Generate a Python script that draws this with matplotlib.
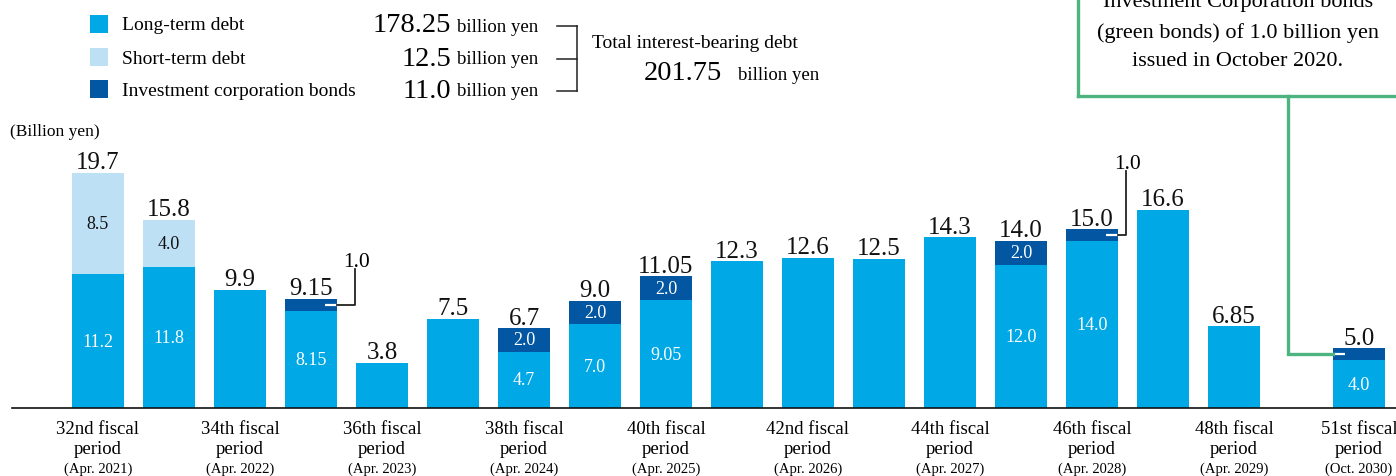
import numpy as np
import matplotlib
matplotlib.use("Agg")
import matplotlib.pyplot as plt
from matplotlib.patches import Rectangle
from matplotlib.lines import Line2D

plt.rcParams['font.family'] = ['Liberation Serif', 'DejaVu Serif']

# ---------------- data ----------------
periods = ["32nd", "33rd", "34th", "35th", "36th", "37th", "38th", "39th", "40th",
           "41st", "42nd", "43rd", "44th", "45th", "46th", "47th", "48th", "51st"]
long_term = [11.2, 11.8, 9.9, 8.15, 3.8, 7.5, 4.7, 7.0, 9.05,
             12.3, 12.6, 12.5, 14.3, 12.0, 14.0, 16.6, 6.85, 4.0]
short_term = [8.5, 4.0, 0, 0, 0, 0, 0, 0, 0,
              0, 0, 0, 0, 0, 0, 0, 0, 0]
bonds = [0, 0, 0, 1.0, 0, 0, 2.0, 2.0, 2.0,
         0, 0, 0, 0, 2.0, 1.0, 0, 0, 1.0]
tick_line1 = ["32nd fiscal", "34th fiscal", "36th fiscal", "38th fiscal", "40th fiscal",
              "42nd fiscal", "44th fiscal", "46th fiscal", "48th fiscal", "51st fiscal"]
tick_dates = ["(Apr. 2021)", "(Apr. 2022)", "(Apr. 2023)", "(Apr. 2024)", "(Apr. 2025)",
              "(Apr. 2026)", "(Apr. 2027)", "(Apr. 2028)", "(Apr. 2029)", "(Oct. 2030)"]
tick_periods = ["32nd", "34th", "36th", "38th", "40th", "42nd", "44th", "46th", "48th", "51st"]

legend_names = ["Long-term debt", "Short-term debt", "Investment corporation bonds"]
legend_totals = ["178.25", "12.5", "11.0"]
grand_total = "201.75"
unit_label = "billion yen"
green_note = ["Investment Corporation bonds", "(green bonds) of 1.0 billion yen",
              "issued in October 2020."]

C_LONG = "#00A9E6"
C_SHORT = "#BEE0F5"
C_BOND = "#0357A2"
C_GREEN = "#4DB480"

W, H = 1396, 477
fig = plt.figure(figsize=(W / 100, H / 100), dpi=100)

PX_PER_UNIT = 11.93
ax_left, ax_right, ax_base, ax_top = 12, 1396, 409, 100
ax = fig.add_axes([ax_left / W, (H - ax_base) / H, (ax_right - ax_left) / W, (ax_base - ax_top) / H])

SLOT = 71.0
X0PX = 98.0
ax.set_xlim((ax_left - X0PX) / SLOT, (ax_right - X0PX) / SLOT)
ax.set_ylim(0, (ax_base - ax_top) / PX_PER_UNIT)

n = len(periods)
x = np.arange(n, dtype=float)
x[-1] += 0.76  # gap before the 51st period

lt = np.array(long_term)
st = np.array(short_term)
bd = np.array(bonds)
total = lt + st + bd
BW = 0.73

ax.bar(x, lt, width=BW, color=C_LONG, linewidth=0)
ax.bar(x, st, bottom=lt, width=BW, color=C_SHORT, linewidth=0)
ax.bar(x, bd, bottom=lt + st, width=BW, color=C_BOND, linewidth=0)


def fmt(v):
    s = f"{v:.2f}"
    if s.endswith("0"):
        s = s[:-1]
    return s


for i in range(n):
    ax.text(x[i], total[i] + 0.38, fmt(total[i]), ha="center", va="baseline",
            fontsize=18, color="#111111")
    stacked = (st[i] > 0) or (bd[i] > 0)
    if stacked:
        ax.text(x[i], lt[i] / 2, fmt(lt[i]), ha="center", va="center",
                fontsize=13, color="white")
    if st[i] > 0:
        ax.text(x[i], lt[i] + st[i] / 2, fmt(st[i]), ha="center", va="center",
                fontsize=13, color="#111111")
    if bd[i] >= 2:
        ax.text(x[i], lt[i] + st[i] + bd[i] / 2, fmt(bd[i]), ha="center", va="center",
                fontsize=13, color="white")

# callouts for 1.0 bonds (black)
callouts = {3: (0.25, 2.5), 14: (0.11, 4.87)}
for i, (dx, up) in callouts.items():
    ym = lt[i] + st[i] + bd[i] / 2
    right = x[i] + BW / 2
    ax.plot([right - 0.17, right], [ym, ym], color="white", lw=1.6, solid_capstyle="butt")
    xl = right + dx
    ytop = total[i] + up
    ax.plot([right, xl, xl], [ym, ym, ytop], color="#222222", lw=1.3, clip_on=False)
    ax.text(xl + 0.03, ytop + 0.25, fmt(bd[i]), ha="center", va="baseline", fontsize=15.5)

# green callout for 51st
i = n - 1
ym = lt[i] + st[i] + bd[i] / 2
left = x[i] - BW / 2
ax.plot([left, left + 0.17], [ym, ym], color="white", lw=1.6, solid_capstyle="butt")
gx = (1288 - X0PX) / SLOT
box_bottom = (ax_base - 97) / PX_PER_UNIT
box_left = (1078 - X0PX) / SLOT
ax.plot([left, gx, gx], [ym, ym, box_bottom], color=C_GREEN, lw=2.4, clip_on=False,
        solid_joinstyle="miter")
ax.plot([box_left, 30], [box_bottom, box_bottom], color=C_GREEN, lw=2.4, clip_on=False)
ax.plot([box_left, box_left], [box_bottom, 60], color=C_GREEN, lw=2.4, clip_on=False,
        solid_joinstyle="miter")
for txt, ypx in zip(green_note, [3, 33, 62]):
    fig.text(1238 / W, 1 - ypx / H, txt, ha="center", va="center", fontsize=16)

# axes styling
for s in ["top", "right", "left"]:
    ax.spines[s].set_visible(False)
ax.spines["bottom"].set_linewidth(1.2)
ax.spines["bottom"].set_color("#111111")
ax.set_yticks([])
tick_pos = [x[periods.index(p)] for p in tick_periods]
ax.set_xticks(tick_pos)
ax.set_xticklabels([t + "\nperiod" for t in tick_line1], fontsize=13.5, linespacing=1.22)
ax.tick_params(axis="x", length=0, pad=9)
for tp, d in zip(tick_pos, tick_dates):
    ax.annotate(d, xy=(tp, 0), xycoords=("data", "axes fraction"), xytext=(0, -60),
                textcoords="offset pixels", ha="center", va="center", fontsize=10.5)

fig.text(10 / W, 1 - 132 / H, "(Billion yen)", ha="left", va="center", fontsize=12.5)

# legend block
rows_y = [25, 58, 90]
colors = [C_LONG, C_SHORT, C_BOND]
for name, tot, c, y in zip(legend_names, legend_totals, colors, rows_y):
    fig.add_artist(Rectangle((90 / W, 1 - (y + 9) / H), 18 / W, 18 / H,
                             transform=fig.transFigure, color=c, lw=0))
    fig.text(122 / W, 1 - (y + 1) / H, name, ha="left", va="center", fontsize=14)
    fig.text(451 / W, 1 - (y + 1) / H, tot, ha="right", va="center", fontsize=20.5)
    fig.text(457 / W, 1 - (y + 2) / H, unit_label, ha="left", va="center", fontsize=13.5)
    fig.add_artist(Line2D([557 / W, 577 / W], [1 - (y + 2) / H, 1 - (y + 2) / H],
                          transform=fig.transFigure, color="#222222", lw=1.1))
fig.add_artist(Line2D([577 / W, 577 / W], [1 - 27 / H, 1 - 92 / H],
                      transform=fig.transFigure, color="#222222", lw=1.1))
fig.text(592 / W, 1 - 43 / H, "Total interest-bearing debt", ha="left", va="center", fontsize=14)
fig.text(722 / W, 1 - 74 / H, grand_total, ha="right", va="center", fontsize=20.5)
fig.text(738 / W, 1 - 75 / H, unit_label, ha="left", va="center", fontsize=13.5)

fig.savefig("out.png", dpi=100)
